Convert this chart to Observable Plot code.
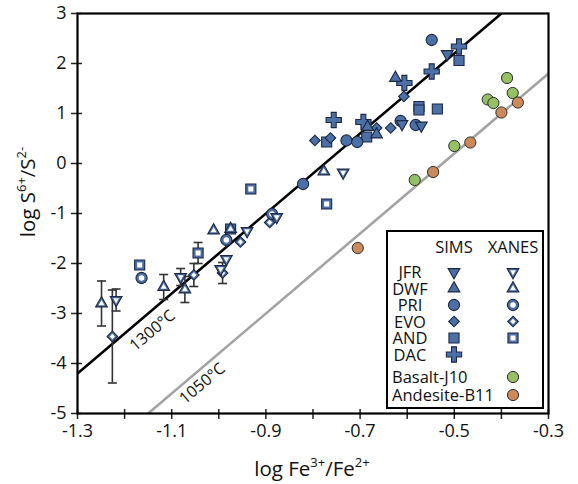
<!DOCTYPE html>
<html><head><meta charset="utf-8">
<script src="https://cdn.jsdelivr.net/npm/d3@7"></script>
<script src="https://cdn.jsdelivr.net/npm/@observablehq/plot@0.6"></script>
<style>
body{margin:0;background:#fff;}
svg{font-family:"Open Sans",sans-serif;}
</style>
</head><body><div id="chart"></div>
<script>
// ---- data: [log Fe3+/Fe2+, log S6+/S2-] ----
const simsJFR = [[-0.515,2.19],[-0.611,0.79],[-0.570,0.76]];
const simsDWF = [[-0.625,1.71],[-0.684,0.73],[-0.665,0.58]];
const simsPRI = [[-0.548,2.47],[-0.614,0.85],[-0.582,0.77],[-0.729,0.46],[-0.706,0.43],[-0.821,-0.41]];
const simsEVO = [[-0.607,1.34],[-0.665,0.71],[-0.635,0.71],[-0.796,0.46],[-0.763,0.51]];
const simsAND = [[-0.490,2.06],[-0.575,1.14],[-0.575,1.07],[-0.536,1.09],[-0.686,0.53],[-0.771,0.43]];
const simsDAC = [[-0.490,2.34],[-0.548,1.84],[-0.606,1.61],[-0.756,0.87],[-0.693,0.83]];
// XANES: [x, y, error]
const xanesAND = [[-1.168,-2.03,0],[-1.044,-1.79,0.21],[-0.975,-1.31,0],[-0.932,-0.51,0],[-0.771,-0.81,0]];
const xanesEVO = [[-1.226,-3.46,0.93],[-1.053,-2.23,0.23],[-0.992,-2.19,0.21],[-0.954,-1.57,0],[-0.892,-1.18,0]];
const xanesPRI = [[-1.164,-2.29,0.07],[-0.984,-1.53,0],[-0.887,-1.01,0]];
const xanesDWF = [[-1.249,-2.80,0.45],[-1.117,-2.47,0.25],[-1.072,-2.52,0.26],[-1.011,-1.34,0],[-0.975,-1.31,0],[-0.777,-0.16,0]];
const xanesJFR = [[-1.218,-2.73,0.22],[-1.081,-2.27,0.17],[-0.984,-1.91,0],[-0.996,-2.11,0],[-0.940,-1.35,0],[-0.877,-1.07,0],[-0.736,-0.18,0]];
const basaltJ10 = [[-0.388,1.71],[-0.429,1.28],[-0.417,1.21],[-0.376,1.41],[-0.500,0.35],[-0.584,-0.33]];
const andesiteB11 = [[-0.365,1.22],[-0.400,1.02],[-0.466,0.42],[-0.545,-0.17],[-0.705,-1.69]];
// isotherms
const isoLabels = ["1300°C","1050°C"];
const isoSlope = [8.0, 8.0];
const isoIntercept = [6.2, 4.2];
const isoLabelX = [-1.141, -1.035];
const isoLabelY = [-3.34, -4.40];
// ticks
const xTickLabels = [-1.3,-1.1,-0.9,-0.7,-0.5,-0.3];
const xTicksAll = [-1.3,-1.2,-1.1,-1.0,-0.9,-0.8,-0.7,-0.6,-0.5,-0.4,-0.3];
const yTicks = [-5,-4,-3,-2,-1,0,1,2,3];
const legendSamples = ["JFR","DWF","PRI","EVO","AND","DAC"];
const legendRefs = ["Basalt-J10","Andesite-B11"];

// ---- styles ----
const blue="#4c6fa5", dark="#1b2946", green="#95c063", orange="#cc8a5a";

function mk(fn){return {draw(ctx,size){const r=Math.sqrt(size/Math.PI); fn(ctx,r);}};}
const symDown = mk((c,r)=>{const s=r*1.05; c.moveTo(-s,-0.577*s); c.lineTo(s,-0.577*s); c.lineTo(0,1.155*s); c.closePath();});
const symUp = mk((c,r)=>{const s=r*1.05; c.moveTo(-s,0.577*s); c.lineTo(s,0.577*s); c.lineTo(0,-1.155*s); c.closePath();});
const symCircle = mk((c,r)=>{c.moveTo(r,0); c.arc(0,0,r,0,2*Math.PI);});
const symDiamond = mk((c,r)=>{const s=r*0.95; c.moveTo(0,-s); c.lineTo(s,0); c.lineTo(0,s); c.lineTo(-s,0); c.closePath();});
const symSquare = mk((c,r)=>{const s=r*0.9; c.rect(-s,-s,2*s,2*s);});
const symCross = mk((c,r)=>{const a=r*1.3, w=r*0.42;
  c.moveTo(-w,-a); c.lineTo(w,-a); c.lineTo(w,-w); c.lineTo(a,-w); c.lineTo(a,w); c.lineTo(w,w);
  c.lineTo(w,a); c.lineTo(-w,a); c.lineTo(-w,w); c.lineTo(-a,w); c.lineTo(-a,-w); c.lineTo(-w,-w); c.closePath();});
const symCap = {draw(c,size){c.moveTo(-4.5,0); c.lineTo(4.5,0);}};
const symOf = {JFR:symDown, DWF:symUp, PRI:symCircle, EVO:symDiamond, AND:symSquare, DAC:symCross};

const toRows = (arr)=>arr.map(d=>({x:d[0], y:d[1], err:d[2]||0}));
const R = 5.6;

const marks = [];
isoLabels.forEach((lab,i)=>{
  const pts = [-1.3,-0.3].map(x=>({x, y:isoSlope[i]*x+isoIntercept[i]}));
  marks.push(Plot.line(pts,{x:"x",y:"y",stroke: i===0?"#000":"#a3a3a3", strokeWidth:2.6, clip:true}));
  marks.push(Plot.text([{x:isoLabelX[i], y:isoLabelY[i], t:lab}],{x:"x",y:"y",text:"t",rotate:-40,fontSize:16,fill:"#111"}));
});
const xanesSets = [["AND",xanesAND],["EVO",xanesEVO],["PRI",xanesPRI],["DWF",xanesDWF],["JFR",xanesJFR]];
const errRows = xanesSets.flatMap(([k,a])=>toRows(a)).filter(d=>d.err>0);
marks.push(Plot.ruleX(errRows,{x:"x",y1:d=>d.y-d.err,y2:d=>d.y+d.err,stroke:"#333",strokeWidth:1.6}));
marks.push(Plot.dot(errRows,{x:"x",y:d=>d.y-d.err,symbol:symCap,r:4,stroke:"#333",strokeWidth:1.6,fill:"none"}));
marks.push(Plot.dot(errRows,{x:"x",y:d=>d.y+d.err,symbol:symCap,r:4,stroke:"#333",strokeWidth:1.6,fill:"none"}));
xanesSets.forEach(([k,a])=>{
  const rows = toRows(a);
  marks.push(Plot.dot(rows,{x:"x",y:"y",symbol:symOf[k],r:R,fill:blue,stroke:dark,strokeWidth:1.1}));
  marks.push(Plot.dot(rows,{x:"x",y:"y",symbol:symOf[k],r:R*0.5,fill:"#fff"}));
});
[["DAC",simsDAC],["AND",simsAND],["EVO",simsEVO],["PRI",simsPRI],["DWF",simsDWF],["JFR",simsJFR]].forEach(([k,a])=>{
  marks.push(Plot.dot(toRows(a),{x:"x",y:"y",symbol:symOf[k],r:k==="DAC"?R*1.05:R,fill:blue,stroke:dark,strokeWidth:1.1}));
});
marks.push(Plot.dot(toRows(basaltJ10),{x:"x",y:"y",symbol:symCircle,r:R,fill:green,stroke:"#2c2c2c",strokeWidth:1}));
marks.push(Plot.dot(toRows(andesiteB11),{x:"x",y:"y",symbol:symCircle,r:R,fill:orange,stroke:"#2c2c2c",strokeWidth:1}));
marks.push(Plot.axisX({ticks:xTicksAll, tickSize:10, dy:-4, text:null, stroke:"#222", strokeWidth:1.5}));
marks.push(Plot.axisX({ticks:xTickLabels, tickSize:0, tickPadding:11, tickFormat:d=>d.toFixed(1), fontSize:18, fill:"#111"}));
marks.push(Plot.axisY({ticks:yTicks, tickSize:11, dx:5, text:null, stroke:"#222", strokeWidth:1.5}));
marks.push(Plot.axisY({ticks:yTicks, tickSize:0, tickPadding:11, tickFormat:d=>String(d), fontSize:18, fill:"#111"}));
marks.push(Plot.frame({stroke:"#000", strokeWidth:2.2}));

const plot = Plot.plot({
  width:578, height:484,
  marginLeft:77, marginRight:30, marginTop:13, marginBottom:71,
  x:{domain:[-1.3,-0.3], label:null},
  y:{domain:[-5,3], label:null},
  style:{fontFamily:'"Open Sans",sans-serif', fontSize:"18px", background:"#fff"},
  marks
});
document.getElementById("chart").appendChild(plot);

// axis titles with superscripts
const svg = d3.select(plot);
function supText(g, parts){
  let up = false;
  parts.forEach(([t,sup])=>{
    const ts = g.append("tspan").text(t);
    if (sup) { ts.attr("font-size",13).attr("dy", up ? 0 : -9); up = true; }
    else { ts.attr("dy", up ? 9 : 0); up = false; }
  });
}
const xl = svg.append("text").attr("x",312).attr("y",476).attr("text-anchor","middle")
  .attr("font-size",20.5).attr("fill","#111");
supText(xl, [["log Fe",0],["3+",1],["/Fe",0],["2+",1]]);
const yl = svg.append("text").attr("transform","translate(35,192) rotate(-90)").attr("text-anchor","middle")
  .attr("font-size",20.5).attr("fill","#111");
supText(yl, [["log S",0],["6+",1],["/S",0],["2-",1]]);

// legend
const lg = svg.append("g").attr("font-size",16.5).attr("fill","#111");
lg.append("rect").attr("x",387).attr("y",231).attr("width",156).attr("height",177)
  .attr("fill","#fff").attr("stroke","#000").attr("stroke-width",2);
const sx = 454, xx = 513;
lg.append("text").attr("x",sx).attr("y",253).attr("text-anchor","middle").text("SIMS");
lg.append("text").attr("x",xx).attr("y",253).attr("text-anchor","middle").text("XANES");
function symPath(sym, r){const p=d3.path(); sym.draw(p, Math.PI*r*r); return p.toString();}
const rowY = [272,288.5,305,321.5,338,354.5];
legendSamples.forEach((k,i)=>{
  const y = rowY[i];
  lg.append("text").attr("x",410).attr("y",y+6).attr("text-anchor","middle").text(k);
  lg.append("path").attr("d",symPath(symOf[k], k==="DAC"?R*1.05:R)).attr("transform",`translate(${sx},${y})`)
    .attr("fill",blue).attr("stroke",dark).attr("stroke-width",1.1);
  if (k!=="DAC"){
    lg.append("path").attr("d",symPath(symOf[k],R)).attr("transform",`translate(${xx},${y})`)
      .attr("fill",blue).attr("stroke",dark).attr("stroke-width",1.1);
    lg.append("path").attr("d",symPath(symOf[k],R*0.5)).attr("transform",`translate(${xx},${y})`)
      .attr("fill","#fff");
  }
});
[[legendRefs[0],green,377],[legendRefs[1],orange,395]].forEach(([t,c,y])=>{
  lg.append("text").attr("x",392).attr("y",y+6).attr("text-anchor","start").text(t);
  lg.append("path").attr("d",symPath(symCircle,R)).attr("transform",`translate(${xx},${y})`)
    .attr("fill",c).attr("stroke","#2c2c2c").attr("stroke-width",1);
});
</script>
</body></html>
